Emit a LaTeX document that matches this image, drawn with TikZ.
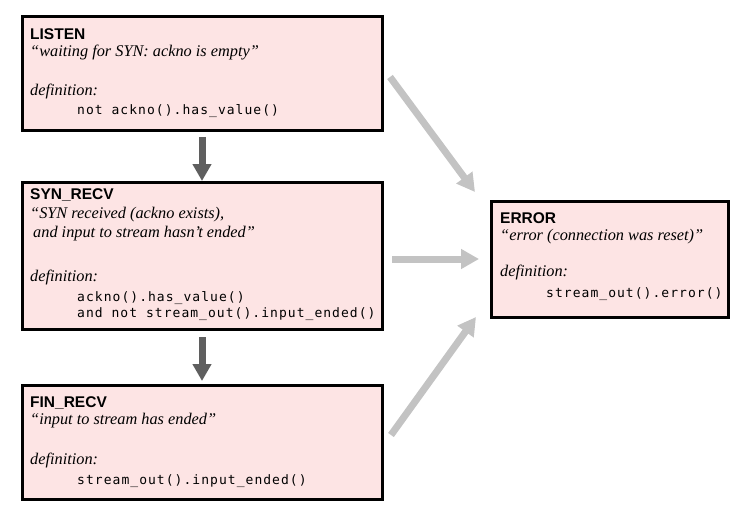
\documentclass[tikz,border=0pt]{standalone}
\usepackage{fontspec}
\usetikzlibrary{arrows.meta}
\newfontfamily\headfont{Liberation Sans}
\newfontfamily\quotefont{Liberation Serif}
\newfontfamily\codefont{DejaVu Sans Mono}[LetterSpace=8]
\definecolor{statefill}{HTML}{FDE4E4}
\definecolor{mainarrow}{HTML}{5F5F5F}
\definecolor{errarrow}{HTML}{C3C3C3}
\begin{document}
\begin{tikzpicture}[x=1pt,y=-1pt,
  state/.style={draw=black, line width=3pt, fill=statefill, rectangle,
    anchor=north west, outer sep=0pt, inner sep=0pt},
  headtext/.style={anchor=base west, inner sep=0pt,
    font=\headfont\bfseries\fontsize{15.5}{15.5}\selectfont},
  quotetext/.style={anchor=base west, inner sep=0pt,
    font=\quotefont\itshape\fontsize{16.3}{16.3}\selectfont},
  codetext/.style={anchor=base west, inner sep=0pt,
    font=\codefont\fontsize{13}{13}\selectfont},
  flow/.style={draw=mainarrow, line width=7pt,
    -{Triangle[length=17pt,width=18pt]}},
  fail/.style={draw=errarrow, line width=7pt,
    -{Triangle[length=18pt,width=19pt]}},
]
\fill[white] (0,0) rectangle (752,516);
\useasboundingbox (0,0) rectangle (752,516);

% state boxes
\node[state, minimum width=360pt, minimum height=114pt] (listen) at (22,17) {};
\node[state, minimum width=360pt, minimum height=147pt] (synrecv) at (22,182) {};
\node[state, minimum width=360pt, minimum height=114pt] (finrecv) at (22,385) {};
\node[state, minimum width=237pt, minimum height=116pt] (error) at (491,201) {};

% LISTEN
\node[headtext] (listenT) at (30,40) {LISTEN};
\node[quotetext] (listenQ) at (30,57) {“waiting for SYN: ackno is empty”};
\node[quotetext] (listenD) at (30,96) {definition:};
\node[codetext] (listenC) at (77,115) {not ackno().has\_value()};

% SYN_RECV
\node[headtext] (synT) at (30,199) {SYN\_RECV};
\node[quotetext] (synQa) at (30,218) {“SYN received (ackno exists),};
\node[quotetext] (synQb) at (33,237) {and input to stream hasn’t ended”};
\node[quotetext] (synD) at (30,281) {definition:};
\node[codetext] (synCa) at (77,301) {ackno().has\_value()};
\node[codetext] (synCb) at (77,317) {and not stream\_out().input\_ended()};

% FIN_RECV
\node[headtext] (finT) at (30,407) {FIN\_RECV};
\node[quotetext] (finQ) at (30,424) {“input to stream has ended”};
\node[quotetext] (finD) at (30,464) {definition:};
\node[codetext] (finC) at (77,484) {stream\_out().input\_ended()};

% ERROR
\node[headtext] (errT) at (500,223) {ERROR};
\node[quotetext] (errQ) at (500,240) {“error (connection was reset)”};
\node[quotetext] (errD) at (500,276) {definition:};
\node[codetext] (errC) at (546,297) {stream\_out().error()};

% normal progression
\draw[flow] ([yshift=-6pt]listen.south) -- ([yshift=1pt]synrecv.north);
\draw[flow] ([yshift=-8pt]synrecv.south) -- ([yshift=4pt]finrecv.north);

% transitions into ERROR
\draw[fail] ([shift={(8,3)}]listen.east) -- ([shift={(-16,-9)}]error.north west);
\draw[fail] ([xshift=10pt]synrecv.east |- error.west) -- ([xshift=-12pt]error.west);
\draw[fail] ([shift={(9,-7)}]finrecv.east) -- ([shift={(-15,0)}]error.south west);
\end{tikzpicture}
\end{document}
